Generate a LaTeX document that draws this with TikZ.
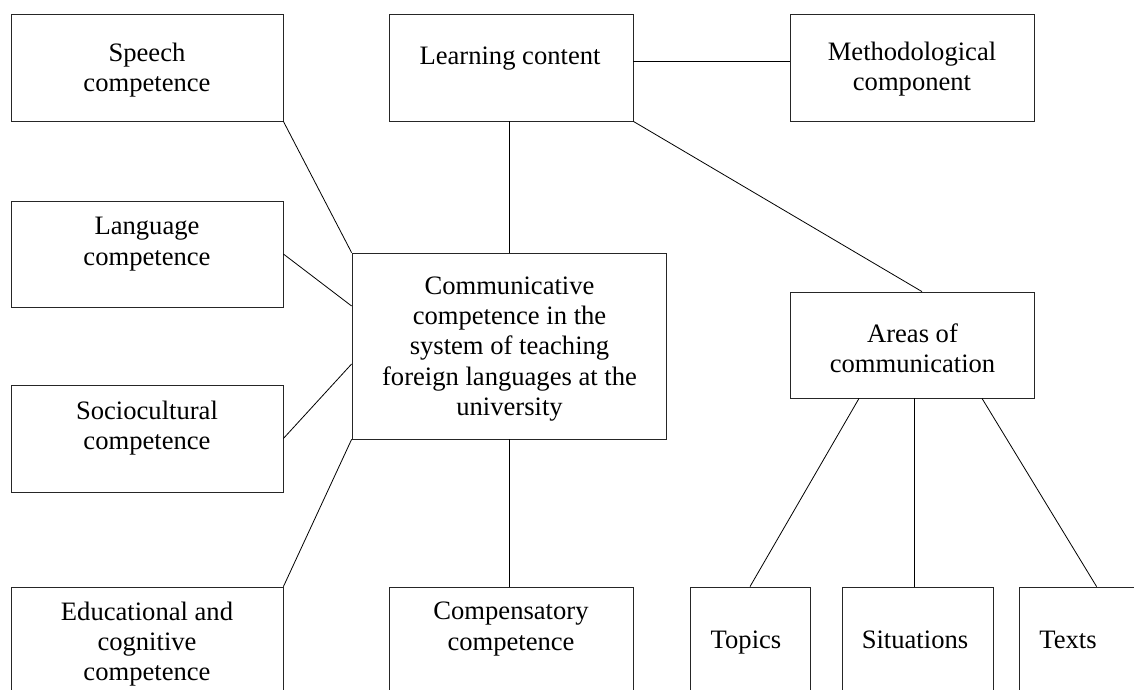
\documentclass[tikz,border=0pt]{standalone}
\usepackage{fontspec}
\setmainfont{Liberation Serif}
\usetikzlibrary{positioning,calc}

\begin{document}
\begin{tikzpicture} [ % 先定义每类框的样式
            x=1pt, y=-1pt, line width=0.8pt,
            font=\fontsize{26.6pt}{30.4pt}\selectfont,
            box/.style = {rectangle, draw=black!85, inner sep=0pt},
            wbox/.style = {box, minimum width=272pt},
            mbox/.style = {box, minimum width=244pt},
            txt/.style = {align=center, inner sep=0pt}
        ]

        \useasboundingbox (0,0) rectangle (1134,689);

        % 左边方框
        \node [wbox, minimum height=107pt] (speech) at (147,67.5) {};
        \node [wbox, minimum height=106pt] (lang) at (147,254) {};
        \node [wbox, minimum height=107pt] (socio) at (147,438.5) {};
        \node [wbox, minimum height=113pt] (edu) at (147,643.5) {};

        \node [txt] (speech-t) at (147,70) {Speech\\competence};
        \node [txt] (lang-t) at (147,244) {Language\\competence};
        \node [txt] (socio-t) at (147,428) {Sociocultural\\competence};
        \node [txt] (edu-t) at (147,644) {Educational and\\cognitive\\competence};

        % 中间方框
        \node [box, minimum width=314pt, minimum height=186pt] (comm) at (509,346) {};
        \node [mbox, minimum height=107pt] (learn) at (511,67.5) {};
        \node [mbox, minimum height=113pt] (comp) at (511,643.5) {};

        \node [txt] (comm-t) at (509.5,349) {Communicative\\competence in the\\system of teaching\\foreign languages at the\\university};
        \node [txt, anchor=base] (learn-t) at (510,64) {Learning content};
        \node [txt] (comp-t) at (511,629) {Compensatory\\competence};

        % 右边方框
        \node [mbox, minimum height=107pt] (meth) at (912,67.5) {};
        \node [mbox, minimum height=106pt] (areas) at (912,345) {};

        \node [txt] (meth-t) at (912,69) {Methodological\\component};
        \node [txt] (areas-t) at (912.5,348) {Areas of\\communication};

        % 下面小方框
        \node [box, minimum width=120pt, minimum height=113pt] (topics) at (750,643.5) {};
        \node [box, minimum width=151pt, minimum height=113pt] (situ) at (917.5,643.5) {};
        \node [box, minimum width=131pt, minimum height=113pt] (texts) at (1084.5,643.5) {};

        \node [txt, anchor=base] (topics-t) at (746,648) {Topics};
        \node [txt, anchor=base] (situ-t) at (915,648) {Situations};
        \node [txt, anchor=base] (texts-t) at (1068,648) {Texts};

        % 连线
        \draw (speech.south east) -- (comm.north west);
        \draw (lang.east) -- ([yshift=40pt]comm.west);
        \draw (socio.east) -- ([yshift=-18pt]comm.west);
        \draw (edu.north east) -- (comm.south west);

        \draw (comm.north) -- (comm.north |- learn.south);
        \draw (comm.south) -- (comm.south |- comp.north);

        \draw ([yshift=6.5pt]learn.east) -- ([yshift=6.5pt]meth.west);
        \draw (learn.south east) -- ([xshift=10pt]areas.north);

        \draw ([xshift=-53pt]areas.south) -- (topics.north);
        \draw ([xshift=2pt]areas.south) -- ([xshift=2pt]areas.south |- situ.north);
        \draw ([xshift=70pt]areas.south) -- ([xshift=78pt]texts.north west);

    \end{tikzpicture}
\end{document}
